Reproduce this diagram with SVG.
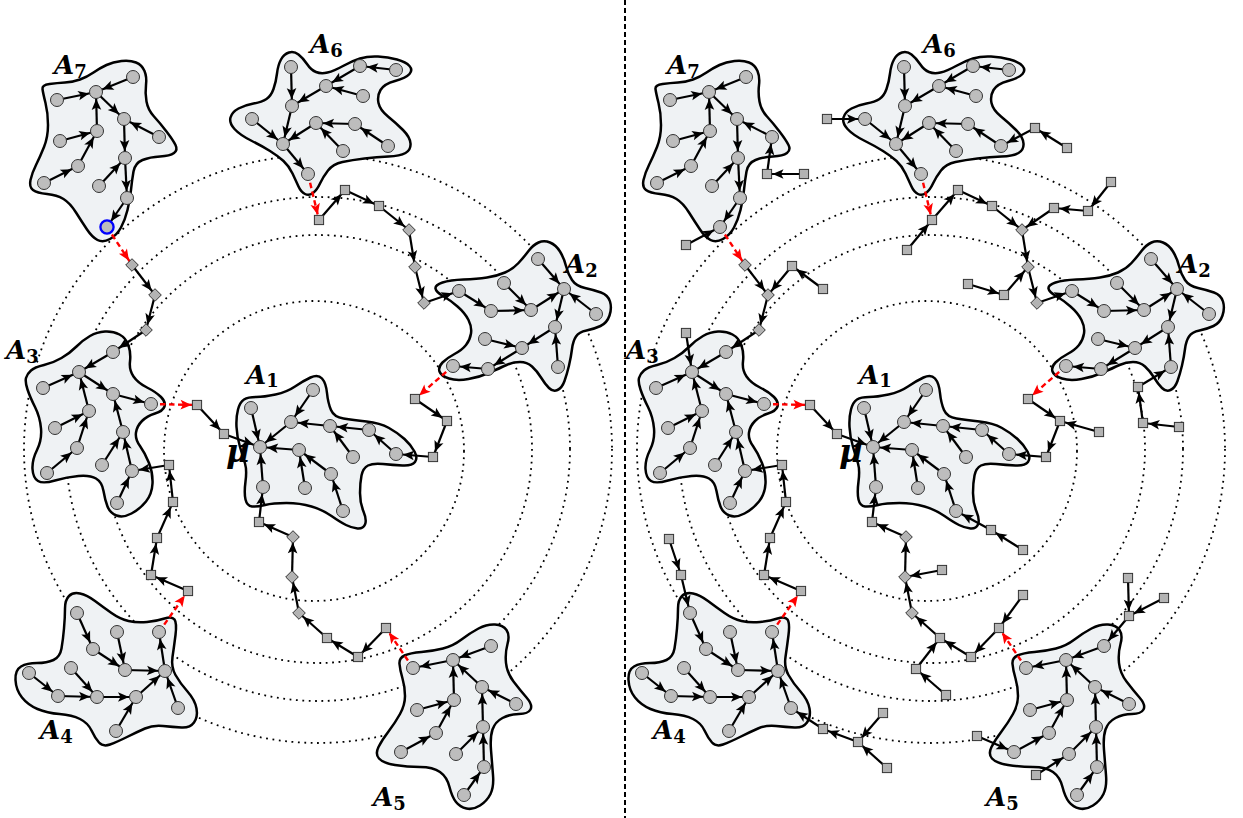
<svg xmlns="http://www.w3.org/2000/svg" width="1243" height="818" viewBox="0 0 1243 818">
<style>
.nc{fill:#bdbdbd;stroke:#333;stroke-width:1}
.ns{fill:#b3b3b3;stroke:#333;stroke-width:1}
.blob{fill:#eff2f4;stroke:#000;stroke-width:2.5;stroke-linejoin:round}
.ring{fill:none;stroke:#000;stroke-width:1.8;stroke-dasharray:1.8 4.6}
.ec line{stroke:#000;stroke-width:2.2;marker-end:url(#ah)}
.es line{stroke:#000;stroke-width:2.2;marker-end:url(#ahs)}
.rd line{stroke:#f00;stroke-width:2.4;stroke-dasharray:5.5 3.5;marker-end:url(#ahr)}
.lbl{font-family:"DejaVu Serif","Liberation Serif",serif;font-weight:bold;font-style:italic;font-size:26px;fill:#000}
.sub{font-style:normal;font-size:18px}
</style>
<defs>
<marker id="ah" viewBox="-20 -6 21 12" refX="0" refY="0" markerWidth="21" markerHeight="12" markerUnits="userSpaceOnUse" orient="auto"><path d="M-7,0L-18,-4.8L-15.5,0L-18,4.8Z" fill="#000"/></marker>
<marker id="ahs" viewBox="-20 -6 21 12" refX="0" refY="0" markerWidth="21" markerHeight="12" markerUnits="userSpaceOnUse" orient="auto"><path d="M-5.5,0L-16.5,-4.8L-14,0L-16.5,4.8Z" fill="#000"/></marker>
<marker id="ahr" viewBox="-20 -6 21 12" refX="0" refY="0" markerWidth="21" markerHeight="12" markerUnits="userSpaceOnUse" orient="auto"><path d="M-5.5,0L-16.5,-4.8L-14,0L-16.5,4.8Z" fill="#f00"/></marker>
<circle id="c" r="6.5" class="nc"/>
<rect id="s" x="-4.6" y="-4.6" width="9.2" height="9.2" class="ns"/>
<path id="d" d="M0,-6.3L6.3,0L0,6.3L-6.3,0Z" class="ns"/>
</defs>

<g id="left">
<g id="rings" class="ring">
<circle cx="318" cy="449" r="294"/>
<circle cx="318" cy="449" r="252"/>
<circle cx="318" cy="449" r="214"/>
<circle cx="314" cy="451" r="150"/>
</g>
<g id="blobs" class="blob">
<path id="blob-A7" d="M42.5,89 Q42,85 49.5,84 Q57,83 65,82.5 Q73,82 80,79.5 Q87,77 93.5,72.5 Q100,68 106.5,65 Q113,62 121.5,61 Q130,60 136,62.5 Q142,65 144.5,71 Q147,77 146,85 Q145,93 146.5,101.5 Q148,110 154,116.5 Q160,123 166.5,131.5 Q173,140 175.5,145 Q178,150 174,153 Q170,156 160,156.5 Q150,157 142.5,160 Q135,163 133.5,171.5 Q132,180 131,190 Q130,200 127.5,210 Q125,220 121,227.5 Q117,235 110,239 Q103,243 97.5,240 Q92,237 87,229.5 Q82,222 76,212.5 Q70,203 63.5,199 Q57,195 47,194 Q37,193 33,190 Q29,187 30.5,180 Q32,173 36,165 Q40,157 44,147 Q48,137 48,125 Q48,113 45.5,103 Q43,93 42.5,89 Z"/>
<path id="blob-A6" d="M234.5,129 Q229,123 230.5,117.5 Q232,112 238.5,108.5 Q245,105 253.5,103.5 Q262,102 266.5,99 Q271,96 273.5,89 Q276,82 277,73.5 Q278,65 281,59.5 Q284,54 289,52.5 Q294,51 298.5,54.5 Q303,58 307,64 Q311,70 316,72 Q321,74 327.5,72.5 Q334,71 343,66 Q352,61 360,58.5 Q368,56 378,56.5 Q388,57 397,59.5 Q406,62 409.5,66 Q413,70 409.5,74 Q406,78 395,81 Q384,84 380.5,90 Q377,96 378.5,103 Q380,110 388,116.5 Q396,123 403,130 Q410,137 410.5,143.5 Q411,150 405.5,153 Q400,156 388.5,156.5 Q377,157 364.5,158.5 Q352,160 342.5,162 Q333,164 328,170.5 Q323,177 320,183.5 Q317,190 313,193 Q309,196 305,194 Q301,192 298.5,186.5 Q296,181 292.5,173.5 Q289,166 283.5,161 Q278,156 270,151 Q262,146 251,140.5 Q240,135 234.5,129 Z"/>
<path id="blob-A2" d="M435.5,288.5 Q435,285 442.5,282.5 Q450,280 463.5,279.5 Q477,279 487,277.5 Q497,276 505,272.5 Q513,269 518.5,263 Q524,257 528.5,251 Q533,245 538.5,242.5 Q544,240 550,242.5 Q556,245 560,251.5 Q564,258 566,266 Q568,274 572,280 Q576,286 585,288 Q594,290 601,292.5 Q608,295 610,301.5 Q612,308 609.5,315.5 Q607,323 600.5,326 Q594,329 586.5,330.5 Q579,332 576,336.5 Q573,341 572,349 Q571,357 569,365.5 Q567,374 564.5,381 Q562,388 557.5,390 Q553,392 549,388 Q545,384 541,377.5 Q537,371 532,366.5 Q527,362 520,362 Q513,362 506.5,365 Q500,368 490,372.5 Q480,377 468.5,379 Q457,381 449,378.5 Q441,376 439.5,371.5 Q438,367 442.5,362.5 Q447,358 454.5,354 Q462,350 466,345 Q470,340 471,333.5 Q472,327 468.5,320 Q465,313 457.5,306.5 Q450,300 443,296 Q436,292 435.5,288.5 Z"/>
<path id="blob-A3" d="M26,378 Q27,374 31,370.5 Q35,367 44,365 Q53,363 61.5,358 Q70,353 76.5,346.5 Q83,340 90,336 Q97,332 105,331.5 Q113,331 119.5,334.5 Q126,338 128.5,345.5 Q131,353 130,361.5 Q129,370 133.5,376.5 Q138,383 147,387.5 Q156,392 161,397 Q166,402 164.5,406.5 Q163,411 155,413.5 Q147,416 142,421 Q137,426 136,432.5 Q135,439 140,446 Q145,453 149,463 Q153,473 152.5,483.5 Q152,494 146,501.5 Q140,509 131.5,513.5 Q123,518 116.5,515.5 Q110,513 107.5,506.5 Q105,500 103.5,491 Q102,482 96,478.5 Q90,475 78.5,476 Q67,477 55,480.5 Q43,484 38,481 Q33,478 32.5,469 Q32,460 37,450 Q42,440 41,428.5 Q40,417 35,407 Q30,397 27.5,389.5 Q25,382 26,378 Z"/>
<path id="blob-A1" d="M238,409.5 Q240,402 244,399.5 Q248,397 256,397 Q264,397 275.5,394.5 Q287,392 295,386.5 Q303,381 310.5,377.5 Q318,374 322,378.5 Q326,383 327,393 Q328,403 331,410 Q334,417 343.5,418.5 Q353,420 366.5,421.5 Q380,423 389,428 Q398,433 404.5,439 Q411,445 414.5,451.5 Q418,458 415,462 Q412,466 402.5,465.5 Q393,465 383,464 Q373,463 368,465.5 Q363,468 361.5,475.5 Q360,483 360,493 Q360,503 363.5,511.5 Q367,520 365,524.5 Q363,529 357.5,528.5 Q352,528 346,525 Q340,522 331.5,516 Q323,510 311.5,506.5 Q300,503 286.5,503 Q273,503 265,505 Q257,507 252,506.5 Q247,506 245.5,499.5 Q244,493 245.5,481.5 Q247,470 245,463.5 Q243,457 240,447 Q237,437 236.5,427 Q236,417 238,409.5 Z"/>
<path id="blob-A4" d="M65,608.5 Q65,600 69,596 Q73,592 80,593.5 Q87,595 95,601 Q103,607 111.5,613 Q120,619 128.5,621 Q137,623 147,622 Q157,621 164.5,618.5 Q172,616 174.5,619.5 Q177,623 175.5,635 Q174,647 172.5,657 Q171,667 175.5,675 Q180,683 187.5,691.5 Q195,700 196.5,708.5 Q198,717 194,722.5 Q190,728 181.5,727.5 Q173,727 163,726 Q153,725 145,728.5 Q137,732 127,737 Q117,742 110,744.5 Q103,747 99,742.5 Q95,738 91.5,730.5 Q88,723 80,719 Q72,715 59.5,714 Q47,713 37.5,709 Q28,705 22,697.5 Q16,690 15.5,680 Q15,670 21,666.5 Q27,663 37,663 Q47,663 53.5,660 Q60,657 61.5,648.5 Q63,640 64,628.5 Q65,617 65,608.5 Z"/>
<path id="blob-A5" d="M399.5,664 Q399,658 404.5,655.5 Q410,653 421.5,652 Q433,651 443,648.5 Q453,646 461.5,639.5 Q470,633 478.5,628.5 Q487,624 495,624.5 Q503,625 506.5,630 Q510,635 507.5,644 Q505,653 506,663 Q507,673 513.5,681.5 Q520,690 526.5,697.5 Q533,705 530.5,709.5 Q528,714 519,714 Q510,714 502.5,718 Q495,722 492.5,729.5 Q490,737 491,750 Q492,763 493,775 Q494,787 490.5,794 Q487,801 480,805.5 Q473,810 466.5,808.5 Q460,807 456,802 Q452,797 449.5,787 Q447,777 440,772 Q433,767 420,767 Q407,767 395,765 Q383,763 379,758.5 Q375,754 378.5,747 Q382,740 388.5,731.5 Q395,723 400,714 Q405,705 405,696 Q405,687 402.5,678.5 Q400,670 399.5,664 Z"/>
</g>
<g id="labels-left">
<text class="lbl" x="54" y="74">A<tspan class="sub" dy="4">7</tspan></text>
<text class="lbl" x="310" y="53">A<tspan class="sub" dy="4">6</tspan></text>
<text class="lbl" x="565" y="273">A<tspan class="sub" dy="4">2</tspan></text>
<text class="lbl" x="6" y="359">A<tspan class="sub" dy="4">3</tspan></text>
<text class="lbl" x="246" y="384">A<tspan class="sub" dy="3">1</tspan></text>
<text class="lbl" x="40" y="739">A<tspan class="sub" dy="4">4</tspan></text>
<text class="lbl" x="373" y="806">A<tspan class="sub" dy="4">5</tspan></text>
<text class="lbl" x="226" y="462" style="font-size:32px">μ</text>
</g>
<g id="edges">
<g class="ec">
<line x1="133" y1="77" x2="96" y2="92"/><line x1="57" y1="100" x2="96" y2="92"/><line x1="97" y1="131" x2="96" y2="92"/><line x1="96" y1="92" x2="124" y2="119"/><line x1="159" y1="137" x2="124" y2="119"/><line x1="124" y1="119" x2="125" y2="158"/><line x1="60" y1="141" x2="97" y2="131"/><line x1="44" y1="183" x2="78" y2="166"/><line x1="78" y1="166" x2="97" y2="131"/><line x1="99" y1="186" x2="125" y2="158"/><line x1="125" y1="158" x2="127" y2="198"/><line x1="127" y1="198" x2="107" y2="227"/><line x1="146" y1="330" x2="113" y2="352"/>
<line x1="396" y1="70" x2="360" y2="66"/><line x1="360" y1="66" x2="326" y2="86"/><line x1="363" y1="96" x2="326" y2="86"/><line x1="326" y1="86" x2="292" y2="106"/><line x1="291" y1="67" x2="292" y2="106"/><line x1="292" y1="106" x2="283" y2="144"/><line x1="252" y1="119" x2="283" y2="144"/><line x1="316" y1="123" x2="283" y2="144"/><line x1="355" y1="124" x2="316" y2="123"/><line x1="343" y1="151" x2="316" y2="123"/><line x1="388" y1="146" x2="355" y2="124"/><line x1="283" y1="144" x2="308" y2="174"/><line x1="424" y1="303" x2="459" y2="291"/>
<line x1="459" y1="291" x2="491" y2="311"/><line x1="491" y1="311" x2="531" y2="310"/><line x1="504" y1="283" x2="531" y2="310"/><line x1="531" y1="310" x2="564" y2="289"/><line x1="538" y1="259" x2="564" y2="289"/><line x1="596" y1="314" x2="564" y2="289"/><line x1="564" y1="289" x2="555" y2="327"/><line x1="558" y1="367" x2="555" y2="327"/><line x1="555" y1="327" x2="522" y2="348"/><line x1="485" y1="339" x2="522" y2="348"/><line x1="522" y1="348" x2="488" y2="369"/><line x1="488" y1="369" x2="453" y2="366"/><line x1="433" y1="457" x2="396" y2="454"/>
<line x1="113" y1="352" x2="79" y2="372"/><line x1="43" y1="388" x2="79" y2="372"/><line x1="89" y1="411" x2="79" y2="372"/><line x1="79" y1="372" x2="113" y2="394"/><line x1="113" y1="394" x2="151" y2="404"/><line x1="123" y1="432" x2="113" y2="394"/><line x1="55" y1="428" x2="89" y2="411"/><line x1="77" y1="448" x2="89" y2="411"/><line x1="47" y1="473" x2="77" y2="448"/><line x1="102" y1="465" x2="123" y2="432"/><line x1="132" y1="471" x2="123" y2="432"/><line x1="117" y1="503" x2="132" y2="471"/><line x1="169" y1="465" x2="132" y2="471"/><line x1="224" y1="434" x2="260" y2="447"/>
<line x1="313" y1="390" x2="291" y2="422"/><line x1="291" y1="422" x2="260" y2="447"/><line x1="251" y1="408" x2="260" y2="447"/><line x1="330" y1="426" x2="291" y2="422"/><line x1="369" y1="430" x2="330" y2="426"/><line x1="353" y1="457" x2="330" y2="426"/><line x1="396" y1="454" x2="369" y2="430"/><line x1="299" y1="450" x2="260" y2="447"/><line x1="305" y1="488" x2="299" y2="450"/><line x1="331" y1="474" x2="299" y2="450"/><line x1="343" y1="511" x2="331" y2="474"/><line x1="263" y1="487" x2="260" y2="447"/><line x1="259" y1="522" x2="263" y2="487"/>
<line x1="77" y1="613" x2="93" y2="649"/><line x1="93" y1="649" x2="125" y2="670"/><line x1="117" y1="632" x2="125" y2="670"/><line x1="125" y1="670" x2="165" y2="671"/><line x1="165" y1="671" x2="159" y2="632"/><line x1="29" y1="673" x2="58" y2="696"/><line x1="58" y1="696" x2="97" y2="697"/><line x1="71" y1="668" x2="97" y2="697"/><line x1="97" y1="697" x2="136" y2="697"/><line x1="136" y1="697" x2="165" y2="671"/><line x1="116" y1="731" x2="136" y2="697"/><line x1="178" y1="708" x2="165" y2="671"/>
<line x1="491" y1="646" x2="453" y2="660"/><line x1="453" y1="660" x2="413" y2="668"/><line x1="454" y1="700" x2="453" y2="660"/><line x1="482" y1="687" x2="453" y2="660"/><line x1="516" y1="704" x2="482" y2="687"/><line x1="483" y1="727" x2="482" y2="687"/><line x1="417" y1="710" x2="454" y2="700"/><line x1="436" y1="733" x2="454" y2="700"/><line x1="401" y1="752" x2="436" y2="733"/><line x1="456" y1="754" x2="483" y2="727"/><line x1="484" y1="767" x2="483" y2="727"/><line x1="464" y1="795" x2="484" y2="767"/>
</g>
<g class="es">
<line x1="132" y1="265" x2="155" y2="295"/><line x1="155" y1="295" x2="146" y2="330"/><line x1="319" y1="220" x2="345" y2="190"/><line x1="345" y1="190" x2="379" y2="206"/><line x1="379" y1="206" x2="409" y2="230"/><line x1="409" y1="230" x2="415" y2="267"/><line x1="415" y1="267" x2="424" y2="303"/><line x1="415" y1="399" x2="447" y2="421"/><line x1="447" y1="421" x2="433" y2="457"/><line x1="197" y1="405" x2="224" y2="434"/><line x1="173" y1="502" x2="169" y2="465"/><line x1="386" y1="628" x2="358" y2="657"/><line x1="358" y1="657" x2="327" y2="638"/><line x1="327" y1="638" x2="299" y2="613"/><line x1="299" y1="613" x2="292" y2="577"/><line x1="292" y1="577" x2="293" y2="537"/><line x1="293" y1="537" x2="259" y2="522"/><line x1="188" y1="591" x2="151" y2="575"/><line x1="151" y1="575" x2="157" y2="538"/><line x1="157" y1="538" x2="173" y2="502"/>
</g>
<g class="rd">
<line x1="107" y1="227" x2="132" y2="265"/><line x1="308" y1="174" x2="319" y2="220"/><line x1="453" y1="366" x2="415" y2="399"/><line x1="151" y1="404" x2="197" y2="405"/><line x1="159" y1="632" x2="188" y2="591"/><line x1="413" y1="668" x2="386" y2="628"/>
</g>
</g>
<g id="nodes">
<g id="A7-nodes"><use href="#c" x="133" y="77"/><use href="#c" x="96" y="92"/><use href="#c" x="57" y="100"/><use href="#c" x="124" y="119"/><use href="#c" x="159" y="137"/><use href="#c" x="97" y="131"/><use href="#c" x="60" y="141"/><use href="#c" x="125" y="158"/><use href="#c" x="78" y="166"/><use href="#c" x="44" y="183"/><use href="#c" x="99" y="186"/><use href="#c" x="127" y="198"/><use href="#c" x="107" y="227"/></g>
<g id="A6-nodes"><use href="#c" x="291" y="67"/><use href="#c" x="360" y="66"/><use href="#c" x="396" y="70"/><use href="#c" x="326" y="86"/><use href="#c" x="363" y="96"/><use href="#c" x="292" y="106"/><use href="#c" x="252" y="119"/><use href="#c" x="316" y="123"/><use href="#c" x="355" y="124"/><use href="#c" x="283" y="144"/><use href="#c" x="343" y="151"/><use href="#c" x="388" y="146"/><use href="#c" x="308" y="174"/></g>
<g id="A2-nodes"><use href="#c" x="538" y="259"/><use href="#c" x="504" y="283"/><use href="#c" x="459" y="291"/><use href="#c" x="564" y="289"/><use href="#c" x="596" y="314"/><use href="#c" x="491" y="311"/><use href="#c" x="531" y="310"/><use href="#c" x="555" y="327"/><use href="#c" x="485" y="339"/><use href="#c" x="522" y="348"/><use href="#c" x="558" y="367"/><use href="#c" x="488" y="369"/><use href="#c" x="453" y="366"/></g>
<g id="A3-nodes"><use href="#c" x="113" y="352"/><use href="#c" x="79" y="372"/><use href="#c" x="43" y="388"/><use href="#c" x="113" y="394"/><use href="#c" x="151" y="404"/><use href="#c" x="89" y="411"/><use href="#c" x="55" y="428"/><use href="#c" x="123" y="432"/><use href="#c" x="77" y="448"/><use href="#c" x="47" y="473"/><use href="#c" x="102" y="465"/><use href="#c" x="132" y="471"/><use href="#c" x="117" y="503"/></g>
<g id="A1-nodes"><use href="#c" x="313" y="390"/><use href="#c" x="251" y="408"/><use href="#c" x="291" y="422"/><use href="#c" x="330" y="426"/><use href="#c" x="369" y="430"/><use href="#c" x="260" y="447"/><use href="#c" x="299" y="450"/><use href="#c" x="353" y="457"/><use href="#c" x="396" y="454"/><use href="#c" x="331" y="474"/><use href="#c" x="263" y="487"/><use href="#c" x="305" y="488"/><use href="#c" x="343" y="511"/></g>
<g id="A4-nodes"><use href="#c" x="77" y="613"/><use href="#c" x="117" y="632"/><use href="#c" x="159" y="632"/><use href="#c" x="93" y="649"/><use href="#c" x="71" y="668"/><use href="#c" x="125" y="670"/><use href="#c" x="165" y="671"/><use href="#c" x="29" y="673"/><use href="#c" x="58" y="696"/><use href="#c" x="97" y="697"/><use href="#c" x="136" y="697"/><use href="#c" x="178" y="708"/><use href="#c" x="116" y="731"/></g>
<g id="A5-nodes"><use href="#c" x="491" y="646"/><use href="#c" x="453" y="660"/><use href="#c" x="413" y="668"/><use href="#c" x="482" y="687"/><use href="#c" x="516" y="704"/><use href="#c" x="454" y="700"/><use href="#c" x="417" y="710"/><use href="#c" x="483" y="727"/><use href="#c" x="436" y="733"/><use href="#c" x="401" y="752"/><use href="#c" x="456" y="754"/><use href="#c" x="484" y="767"/><use href="#c" x="464" y="795"/></g>
<g id="path-nodes"><use href="#s" x="319" y="220"/><use href="#s" x="345" y="190"/><use href="#s" x="379" y="206"/><use href="#s" x="197" y="405"/><use href="#s" x="224" y="434"/><use href="#s" x="415" y="399"/><use href="#s" x="447" y="421"/><use href="#s" x="433" y="457"/><use href="#s" x="259" y="522"/><use href="#s" x="386" y="628"/><use href="#s" x="358" y="657"/><use href="#s" x="327" y="638"/><use href="#s" x="188" y="591"/><use href="#s" x="151" y="575"/><use href="#s" x="157" y="538"/><use href="#s" x="173" y="502"/><use href="#s" x="169" y="465"/>
<use href="#d" x="132" y="265"/><use href="#d" x="155" y="295"/><use href="#d" x="146" y="330"/><use href="#d" x="409" y="230"/><use href="#d" x="415" y="267"/><use href="#d" x="424" y="303"/><use href="#d" x="293" y="537"/><use href="#d" x="292" y="577"/><use href="#d" x="299" y="613"/></g>
</g>
<circle id="mark-blue" cx="107" cy="227" r="6.6" fill="none" stroke="#0000ff" stroke-width="2.3"/>
</g>

<line id="divider" x1="625" y1="0" x2="625" y2="818" stroke="#000" stroke-width="2" stroke-dasharray="5 3"/>

<g id="right" transform="translate(613,0)">
<use href="#rings"/>
<use href="#blobs"/>
<g id="labels-right">
<text class="lbl" x="54" y="74">A<tspan class="sub" dy="4">7</tspan></text>
<text class="lbl" x="310" y="53">A<tspan class="sub" dy="4">6</tspan></text>
<text class="lbl" x="565" y="273">A<tspan class="sub" dy="4">2</tspan></text>
<text class="lbl" x="13" y="359">A<tspan class="sub" dy="4">3</tspan></text>
<text class="lbl" x="246" y="384">A<tspan class="sub" dy="3">1</tspan></text>
<text class="lbl" x="40" y="739">A<tspan class="sub" dy="4">4</tspan></text>
<text class="lbl" x="373" y="806">A<tspan class="sub" dy="4">5</tspan></text>
<text class="lbl" x="226" y="462" style="font-size:32px">μ</text>
</g>
<use href="#edges"/>
<g id="extra-edges">
<g class="ec">
<line x1="214" y1="119" x2="252" y2="119"/><line x1="154" y1="174" x2="159" y2="137"/><line x1="73" y1="245" x2="107" y2="227"/><line x1="422" y1="128" x2="388" y2="146"/><line x1="525" y1="387" x2="558" y2="367"/><line x1="68" y1="575" x2="77" y2="613"/><line x1="210" y1="729" x2="178" y2="708"/><line x1="378" y1="530" x2="343" y2="511"/><line x1="516" y1="616" x2="491" y2="646"/><line x1="364" y1="736" x2="401" y2="752"/><line x1="423" y1="775" x2="456" y2="754"/><line x1="73" y1="333" x2="79" y2="372"/>
</g>
<g class="es">
<line x1="191" y1="174" x2="154" y2="174"/><line x1="179" y1="266" x2="155" y2="295"/><line x1="210" y1="289" x2="179" y2="266"/><line x1="294" y1="250" x2="319" y2="220"/><line x1="454" y1="148" x2="422" y2="128"/><line x1="498" y1="182" x2="475" y2="211"/><line x1="475" y1="211" x2="441" y2="208"/><line x1="441" y1="208" x2="409" y2="230"/><line x1="355" y1="284" x2="391" y2="295"/><line x1="391" y1="295" x2="415" y2="267"/><line x1="566" y1="427" x2="530" y2="423"/><line x1="530" y1="423" x2="525" y2="387"/><line x1="486" y1="432" x2="447" y2="421"/><line x1="56" y1="539" x2="68" y2="575"/><line x1="245" y1="742" x2="210" y2="729"/><line x1="270" y1="713" x2="245" y2="742"/><line x1="274" y1="768" x2="245" y2="742"/><line x1="329" y1="570" x2="292" y2="577"/><line x1="333" y1="695" x2="303" y2="669"/><line x1="303" y1="669" x2="327" y2="638"/><line x1="410" y1="550" x2="378" y2="530"/><line x1="410" y1="595" x2="386" y2="628"/><line x1="515" y1="578" x2="516" y2="616"/><line x1="551" y1="598" x2="516" y2="616"/>
</g>
</g>
<use href="#nodes"/>
<g id="extra-nodes">
<use href="#s" x="214" y="119"/><use href="#s" x="191" y="174"/><use href="#s" x="154" y="174"/><use href="#s" x="73" y="245"/><use href="#s" x="179" y="266"/><use href="#s" x="210" y="289"/><use href="#s" x="294" y="250"/><use href="#s" x="422" y="128"/><use href="#s" x="454" y="148"/><use href="#s" x="498" y="182"/><use href="#s" x="475" y="211"/><use href="#s" x="441" y="208"/><use href="#s" x="355" y="284"/><use href="#s" x="391" y="295"/><use href="#s" x="566" y="427"/><use href="#s" x="530" y="423"/><use href="#s" x="525" y="387"/><use href="#s" x="486" y="432"/><use href="#s" x="56" y="539"/><use href="#s" x="68" y="575"/><use href="#s" x="210" y="729"/><use href="#s" x="245" y="742"/><use href="#s" x="270" y="713"/><use href="#s" x="274" y="768"/><use href="#s" x="329" y="570"/><use href="#s" x="333" y="695"/><use href="#s" x="303" y="669"/><use href="#s" x="378" y="530"/><use href="#s" x="410" y="550"/><use href="#s" x="410" y="595"/><use href="#s" x="515" y="578"/><use href="#s" x="551" y="598"/><use href="#s" x="516" y="616"/><use href="#s" x="364" y="736"/><use href="#s" x="423" y="775"/><use href="#s" x="73" y="333"/>
</g>
</g>
</svg>
